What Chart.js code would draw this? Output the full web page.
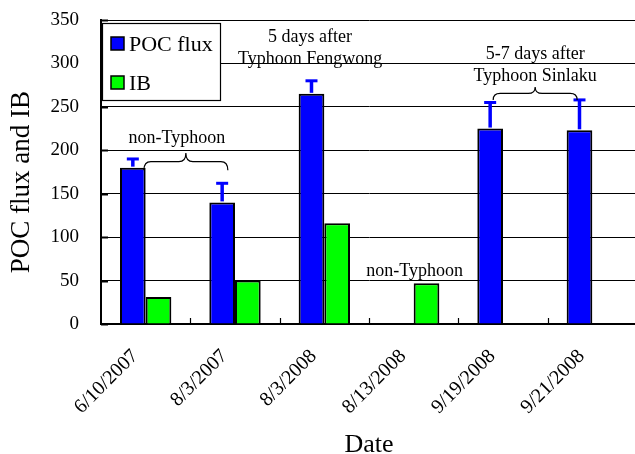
<!DOCTYPE html>
<html>
<head>
<meta charset="utf-8">
<script src="https://cdn.jsdelivr.net/npm/chart.js@4.4.0/dist/chart.umd.min.js"></script>
<style>
  html, body { margin: 0; padding: 0; background: #fff; overflow: hidden; width: 635px; height: 454px; }
  #wrap { width: 637px; height: 454px; }
</style>
</head>
<body>
<div id="wrap"><canvas id="c" width="637" height="454"></canvas></div>
<script>
// Sampling dates and measured values
const dates = ['6/10/2007', '8/3/2007', '8/3/2008', '8/13/2008', '9/19/2008', '9/21/2008'];
const pocFlux = [180, 140, 265, null, 225, 223];
const pocError = [10, 22, 15, null, 30, 35];
const ibValues = [31, 50, 116, 47, null, null];
const yTickValues = [0, 50, 100, 150, 200, 250, 300, 350];

// Text notes: x in category units, y in data units (text centre)
const notes = [
  { text: 'non-Typhoon', x: 0.35, y: 214 },
  { text: '5 days after', x: 1.84, y: 330 },
  { text: 'Typhoon Fengwong', x: 1.84, y: 305 },
  { text: 'non-Typhoon', x: 3.01, y: 61 },
  { text: '5-7 days after', x: 4.36, y: 311 },
  { text: 'Typhoon Sinlaku', x: 4.36, y: 285 }
];
// Curly braces grouping samples: ends, centre (category units), foot and peak (data units)
const braces = [
  { from: -0.02, to: 0.92, mid: 0.45, foot: 177, peak: 197 },
  { from: 3.89, to: 4.83, mid: 4.36, foot: 258, peak: 273 }
];

const serif = "'Liberation Serif', 'Times New Roman', serif";

const overlay = {
  id: 'overlay',
  afterDatasetsDraw(chart) {
    const { ctx, scales: { x, y }, chartArea } = chart;
    const x0 = x.getPixelForValue(0);
    const step = x.getPixelForValue(1) - x0;
    const px = p => x0 + p * step;
    ctx.save();

    // inward tick marks between categories and on the value axis
    ctx.strokeStyle = '#000';
    ctx.lineWidth = 1.2;
    for (let i = 0; i < dates.length; i++) {
      const tx = Math.round(px(i + 0.5)) + 0.5;
      ctx.beginPath();
      ctx.moveTo(tx, chartArea.bottom);
      ctx.lineTo(tx, chartArea.bottom - 6);
      ctx.stroke();
    }
    ctx.lineWidth = 2;
    yTickValues.forEach(v => {
      const ty = Math.round(y.getPixelForValue(v)) + 0.5;
      ctx.beginPath();
      ctx.moveTo(chartArea.left, ty);
      ctx.lineTo(chartArea.left + 7, ty);
      ctx.stroke();
    });

    // upward error bars on POC flux
    const meta = chart.getDatasetMeta(0);
    ctx.strokeStyle = '#0000ff';
    meta.data.forEach((bar, i) => {
      if (pocFlux[i] == null) return;
      const top = y.getPixelForValue(pocFlux[i] + pocError[i]);
      ctx.lineWidth = 3.5;
      ctx.beginPath();
      ctx.moveTo(bar.x, bar.y - 1);
      ctx.lineTo(bar.x, top);
      ctx.stroke();
      ctx.lineWidth = 3;
      ctx.beginPath();
      ctx.moveTo(bar.x - 6, top);
      ctx.lineTo(bar.x + 6, top);
      ctx.stroke();
    });

    // curly braces
    ctx.strokeStyle = '#000';
    ctx.lineWidth = 1.2;
    braces.forEach(b => {
      const xl = px(b.from), xr = px(b.to), xc = px(b.mid);
      const yf = y.getPixelForValue(b.foot), yp = y.getPixelForValue(b.peak);
      const ym = (yf + yp) / 2;
      const r = 7;
      ctx.beginPath();
      ctx.moveTo(xl, yf);
      ctx.quadraticCurveTo(xl, ym, xl + r, ym);
      ctx.lineTo(xc - r, ym);
      ctx.quadraticCurveTo(xc, ym, xc, yp);
      ctx.quadraticCurveTo(xc, ym, xc + r, ym);
      ctx.lineTo(xr - r, ym);
      ctx.quadraticCurveTo(xr, ym, xr, yf);
      ctx.stroke();
    });

    // notes
    ctx.fillStyle = '#000';
    ctx.font = '18px ' + serif;
    ctx.textAlign = 'center';
    ctx.textBaseline = 'middle';
    notes.forEach(n => ctx.fillText(n.text, px(n.x), y.getPixelForValue(n.y)));

    // legend box in the upper-left corner of the plot
    const lx = chartArea.left + 1, ly = chartArea.top + 3, lw = 118, lh = 77;
    ctx.fillStyle = '#fff';
    ctx.fillRect(lx, ly, lw, lh);
    ctx.strokeStyle = '#000';
    ctx.lineWidth = 1.2;
    ctx.strokeRect(lx + 0.5, ly + 0.5, lw, lh);
    ctx.font = '22px ' + serif;
    ctx.textAlign = 'left';
    ctx.textBaseline = 'alphabetic';
    chart.data.datasets.forEach((ds, i) => {
      const sy = ly + 14 + i * 39;
      ctx.fillStyle = ds.backgroundColor;
      ctx.fillRect(lx + 9, sy, 13, 13);
      ctx.lineWidth = 1.5;
      ctx.strokeRect(lx + 9, sy, 13, 13);
      ctx.fillStyle = '#000';
      ctx.fillText(ds.label, lx + 27, sy + 14);
    });
    ctx.restore();
  }
};

new Chart(document.getElementById('c'), {
  type: 'bar',
  data: {
    labels: dates,
    datasets: [
      { label: 'POC flux', data: pocFlux, backgroundColor: '#0000ff', borderColor: '#000', borderWidth: 2 },
      { label: 'IB', data: ibValues, backgroundColor: '#00ff00', borderColor: '#000', borderWidth: 2 }
    ]
  },
  options: {
    responsive: false,
    animation: false,
    devicePixelRatio: 1,
    layout: { padding: { top: 20, right: 0, bottom: 0, left: 0 } },
    datasets: { bar: { categoryPercentage: 0.575, barPercentage: 1 } },
    plugins: { legend: { display: false }, tooltip: { enabled: false } },
    scales: {
      x: {
        grid: { display: false, drawTicks: false },
        border: { color: '#000', width: 2 },
        ticks: {
          color: '#000', font: { family: serif, size: 20 }, maxRotation: 45, minRotation: 45, padding: 10, autoSkip: false,
          callback(v, i) { return dates[i] + '   '; }
        },
        title: { display: true, text: 'Date', color: '#000', font: { family: serif, size: 26, lineHeight: 0.7 }, padding: 0 },
        afterFit(s) { s.height = 130; s.paddingLeft = 0; s.paddingRight = 0; }
      },
      y: {
        min: 0, max: 350,
        afterBuildTicks(s) { s.ticks = yTickValues.map(v => ({ value: v })); },
        grid: { color: '#000', lineWidth: 1, drawTicks: false },
        border: { color: '#000', width: 2 },
        ticks: { color: '#000', font: { family: serif, size: 19 }, padding: 22 },
        title: { display: true, text: 'POC flux and IB   ', color: '#000', font: { family: serif, size: 27 }, padding: { top: 6 } },
        afterFit(s) { s.width = 101; s.paddingTop = 0; s.paddingBottom = 0; }
      }
    }
  },
  plugins: [overlay]
});
</script>
</body>
</html>
